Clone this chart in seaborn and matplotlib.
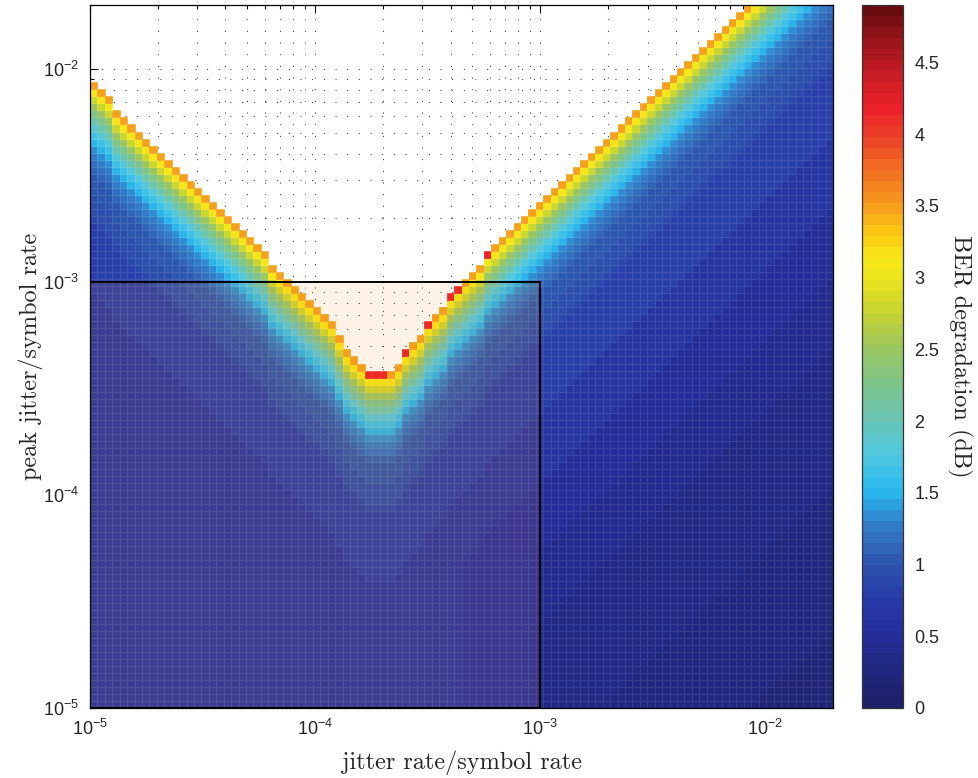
from __future__ import annotations

import matplotlib
matplotlib.use("Agg")
import matplotlib.pyplot as plt
import numpy as np
import seaborn as sns
from matplotlib.colors import LinearSegmentedColormap
from matplotlib.patches import Rectangle
from matplotlib.ticker import LogLocator, NullFormatter

sns.set_theme(style="ticks", context="notebook")
plt.rcParams["font.family"] = ["Liberation Sans", "DejaVu Sans"]
LABEL_FONT = dict(family="cmr10", fontsize=17.5)

# simulation grid: 100 x 100 log-spaced cells on both axes
JITTER_RATE_RANGE = (1e-5, 2e-2)
PEAK_JITTER_RANGE = (1e-5, 2e-2)
N_CELLS = 100

# number of finite (non-failed) rows per column, read off the staircase edge;
# values above 100 put the edge above the plotted window
finite_rows = [89, 88, 87, 85, 84, 83, 82, 81, 80, 79,
               78, 77, 76, 75, 74, 73, 72, 71, 70, 69,
               68, 67, 66, 65, 63, 62, 61, 60, 59, 58,
               57, 56, 55, 53, 51, 50, 49, 48, 48, 48,
               48, 49, 51, 52, 53, 55, 56, 57, 59, 60,
               61, 62, 63, 65, 66, 67, 68, 69, 70, 71,
               72, 73, 74, 75, 76, 77, 78, 79, 80, 81,
               82, 83, 84, 85, 86, 87, 88, 89, 90, 91,
               92, 93, 94, 95, 96, 97, 98, 99, 100, 101,
               102, 103, 104, 105, 106, 107, 108, 109, 110, 111]
# BER degradation (dB) going down from the edge, one value per row
edge_profile = [3.5, 3.1, 2.8, 2.5, 2.25, 2.0, 1.8, 1.62, 1.48, 1.36,
                1.26, 1.18, 1.12, 1.07, 1.03, 1.0, 0.97, 0.95, 0.93, 0.91]
# further down, one value per block of ten rows (dB)
deep_profile = [0.8, 0.62, 0.5, 0.42, 0.36, 0.31, 0.27, 0.24, 0.22, 0.2]
# lowest level reached in each block of ten columns (dB)
column_floor = [0.62, 0.62, 0.64, 0.66, 0.66, 0.6, 0.3, 0.24, 0.22, 0.2]
# columns whose edge cell is red instead of orange
hot_cols = [37, 38, 39, 42, 45, 48, 49, 53]
hot_value = 4.15

# highlighted operating region
region_lo, region_hi = 1e-5, 1e-3

# colour bar (printed jet)
BER_MAX = 4.9
cbar_ticks = [0, 0.5, 1, 1.5, 2, 2.5, 3, 3.5, 4, 4.5]
cmap_anchors = [
    (0.0, "#1e2069"), (0.25, "#20287f"), (0.5, "#252e9c"), (0.75, "#283ca9"),
    (1.0, "#2d56ae"), (1.25, "#327dc8"), (1.5, "#28b9ee"), (1.75, "#50c8e1"),
    (2.0, "#69c5b4"), (2.25, "#7dc58c"), (2.5, "#9bc65f"), (2.75, "#c3d232"),
    (3.0, "#ebe41e"), (3.15, "#f8e814"), (3.35, "#fac314"), (3.55, "#f5961e"),
    (3.8, "#f26923"), (4.0, "#eb4128"), (4.2, "#ec2028"), (4.45, "#c81c26"),
    (4.7, "#961419"), (4.9, "#690c0f"),
]
cmap = LinearSegmentedColormap.from_list(
    "ber_jet", [(v / BER_MAX, c) for v, c in cmap_anchors], N=64)

# assemble the grid
x_edges = np.logspace(np.log10(JITTER_RATE_RANGE[0]), np.log10(JITTER_RATE_RANGE[1]), N_CELLS + 1)
y_edges = np.logspace(np.log10(PEAK_JITTER_RANGE[0]), np.log10(PEAK_JITTER_RANGE[1]), N_CELLS + 1)
near = np.array(edge_profile)
far = np.array(deep_profile)
depth = np.array(finite_rows)[None, :] - 1 - np.arange(N_CELLS)[:, None]
ber = np.where(depth < len(near),
               near[np.clip(depth, 0, len(near) - 1)],
               far[np.clip((depth - len(near)) // 10, 0, len(far) - 1)])
floor = np.repeat(column_floor, N_CELLS // len(column_floor))[None, :]
ber = np.maximum(ber, floor)
for c in hot_cols:
    ber[depth[:, c] == 0, c] = hot_value
ber = np.ma.masked_where(depth < 0, ber)

fig = plt.figure(figsize=(9.79, 7.78), dpi=100)
ax = fig.add_axes([0.0919, 0.09, 0.759, 0.9036])
cax = fig.add_axes([0.8805, 0.09, 0.0419, 0.9036])

mesh = ax.pcolormesh(x_edges, y_edges, ber, cmap=cmap, vmin=0, vmax=BER_MAX,
                     edgecolors=(1, 1, 1, 0.11), linewidth=0.5)
ax.add_patch(Rectangle((region_lo, region_lo), region_hi - region_lo, region_hi - region_lo,
                       facecolor=(1.0, 0.5, 0.05, 0.1), edgecolor="black", lw=1.4, zorder=3))

ax.set_xscale("log")
ax.set_yscale("log")
ax.set_xlim(*JITTER_RATE_RANGE)
ax.set_ylim(*PEAK_JITTER_RANGE)
ax.set_axisbelow(True)
ax.grid(which="both", linestyle=(0, (1, 11)), color="black", linewidth=0.7, alpha=0.85)
for a in (ax.xaxis, ax.yaxis):
    a.set_major_locator(LogLocator(base=10))
    a.set_minor_locator(LogLocator(base=10, subs=np.arange(2, 10)))
    a.set_minor_formatter(NullFormatter())
ax.tick_params(which="both", direction="in", top=True, right=True, labelsize=13,
               color="black", width=0.8)
ax.tick_params(which="major", length=6, pad=8)
ax.tick_params(which="minor", length=3)
for s in ax.spines.values():
    s.set_color("black")
    s.set_linewidth(0.9)

ax.set_xlabel("jitter rate/symbol rate", labelpad=8, **LABEL_FONT)
ax.set_ylabel("peak jitter/symbol rate", labelpad=0, **LABEL_FONT)

cb = fig.colorbar(mesh, cax=cax)
cb.set_ticks(cbar_ticks)
cb.ax.set_yticklabels([f"{t:g}" for t in cbar_ticks])
cb.ax.tick_params(direction="in", left=True, right=True, length=6, labelsize=13, pad=8,
                  color="black", width=0.8)
cb.outline.set_edgecolor("#333333")
cb.outline.set_linewidth(0.9)
cb.set_label("BER degradation (dB)", rotation=270, labelpad=24, **LABEL_FONT)

fig.savefig("out.png", dpi=100)
plt.close(fig)
